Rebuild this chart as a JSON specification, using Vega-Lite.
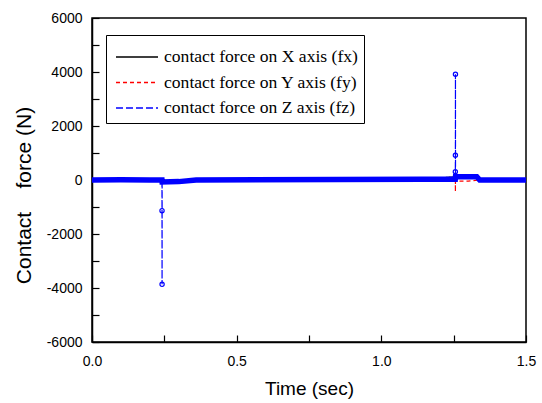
{
  "$schema": "https://vega.github.io/schema/vega-lite/v6.json",
  "width": 434,
  "height": 324,
  "autosize": {"type": "none"},
  "padding": {"left": 92, "top": 18, "right": 16, "bottom": 61},
  "background": "white",
  "config": {
    "view": {"stroke": "black", "strokeWidth": 1.5},
    "axis": {"domainColor": "black", "domainWidth": 1.5, "tickColor": "black", "tickWidth": 1.2, "grid": false, "labelFont": "Liberation Sans", "labelFontSize": 14, "labelColor": "black", "titleFont": "Liberation Sans", "titleFontSize": 19, "titleFontWeight": "normal", "titleColor": "black", "labelFlush": false, "labelOverlap": false}
  },
  "data": {"values": [
    {"t": 0, "s": "X", "v": 0}, {"t": 0.24, "s": "X", "v": 0}, {"t": 0.2424, "s": "X", "v": -75}, {"t": 0.3, "s": "X", "v": -60}, {"t": 0.36, "s": "X", "v": 0}, {"t": 1.14, "s": "X", "v": 30}, {"t": 1.256, "s": "X", "v": 120}, {"t": 1.33, "s": "X", "v": 120}, {"t": 1.34, "s": "X", "v": 0}, {"t": 1.5, "s": "X", "v": 0},
    {"t": 0, "s": "Y", "v": 0}, {"t": 0.24, "s": "Y", "v": 0}, {"t": 0.2424, "s": "Y", "v": -75}, {"t": 0.3, "s": "Y", "v": -60}, {"t": 0.36, "s": "Y", "v": 0}, {"t": 1.14, "s": "Y", "v": 30}, {"t": 1.2558, "s": "Y", "v": 30}, {"t": 1.256, "s": "Y", "v": -433}, {"t": 1.2562, "s": "Y", "v": -40}, {"t": 1.3, "s": "Y", "v": -40}, {"t": 1.34, "s": "Y", "v": 0}, {"t": 1.5, "s": "Y", "v": 0},
    {"t": 0, "s": "Z", "v": 0}, {"t": 0.1, "s": "Z", "v": 5}, {"t": 0.2, "s": "Z", "v": 0}, {"t": 0.2418, "s": "Z", "v": 0}, {"t": 0.242, "s": "Z", "v": -1137}, {"t": 0.2422, "s": "Z", "v": -3863}, {"t": 0.2424, "s": "Z", "v": -75}, {"t": 0.3, "s": "Z", "v": -60}, {"t": 0.36, "s": "Z", "v": 0}, {"t": 1.14, "s": "Z", "v": 30}, {"t": 1.2556, "s": "Z", "v": 30}, {"t": 1.2558, "s": "Z", "v": 307}, {"t": 1.256, "s": "Z", "v": 915}, {"t": 1.2562, "s": "Z", "v": 3915}, {"t": 1.2564, "s": "Z", "v": 120}, {"t": 1.33, "s": "Z", "v": 120}, {"t": 1.34, "s": "Z", "v": 0}, {"t": 1.5, "s": "Z", "v": 0}
  ]},
  "encoding": {
    "x": {"field": "t", "type": "quantitative", "scale": {"domain": [0, 1.5], "nice": false},
      "axis": {"title": "Time (sec)", "values": [0, 0.25, 0.5, 0.75, 1, 1.25, 1.5], "labelExpr": "datum.value % 0.5 === 0 ? format(datum.value, '.1f') : ''", "tickSize": -7, "labelPadding": 19, "titleY": 52, "titleBaseline": "alphabetic",
        "encode": {"ticks": {"update": {"y2": {"signal": "datum.value % 0.5 === 0 ? -7 : -4"}}}}}},
    "y": {"field": "v", "type": "quantitative", "scale": {"domain": [-6000, 6000], "nice": false},
      "axis": {"title": "Contact\u00a0\u00a0\u00a0 force (N)", "titleFontSize": 21, "values": [-6000, -5000, -4000, -3000, -2000, -1000, 0, 1000, 2000, 3000, 4000, 5000, 6000], "labelExpr": "datum.value % 2000 === 0 ? '' + datum.value : ''", "tickSize": -7, "labelPadding": 17, "titleAngle": -90, "titleX": -68, "titleY": 177, "titleAlign": "center", "titleBaseline": "middle",
        "encode": {"ticks": {"update": {"x2": {"signal": "datum.value % 2000 === 0 ? 7 : 4"}}}}}}
  },
  "layer": [
    {
      "mark": {"type": "line", "strokeWidth": 1.2},
      "encoding": {
        "color": {"field": "s", "type": "nominal", "scale": {"domain": ["X", "Y", "Z"], "range": ["black", "#ff0000", "#0000ff"]},
          "legend": {"orient": "none", "legendX": 14, "legendY": 17, "title": null, "strokeColor": "black", "padding": 6, "labelFont": "Liberation Serif", "labelFontSize": 17.6, "labelColor": "black", "labelLimit": 400, "symbolType": "M-0.8,0H2.0", "symbolSize": 900, "symbolStrokeWidth": 1.3, "rowPadding": 0.5, "labelOffset": 20,
            "labelExpr": "'contact force on ' + datum.label + ' axis (f' + lower(datum.label) + ')'"}},
        "strokeDash": {"field": "s", "type": "nominal", "scale": {"domain": ["X", "Y", "Z"], "range": [[1, 0], [4, 3], [7, 3]]}, "legend": null}
      }
    },
    {
      "transform": [{"filter": "datum.s === 'Z' && abs(datum.v) < 300"}],
      "mark": {"type": "line", "strokeWidth": 5.5, "color": "#0000ff"},
      "encoding": {}
    },
    {
      "transform": [{"filter": "datum.s === 'Z' && abs(datum.v) >= 300"}],
      "mark": {"type": "point", "shape": "circle", "filled": false, "color": "#0000ff", "size": 18, "strokeWidth": 1.2, "opacity": 1},
      "encoding": {}
    }
  ]
}
